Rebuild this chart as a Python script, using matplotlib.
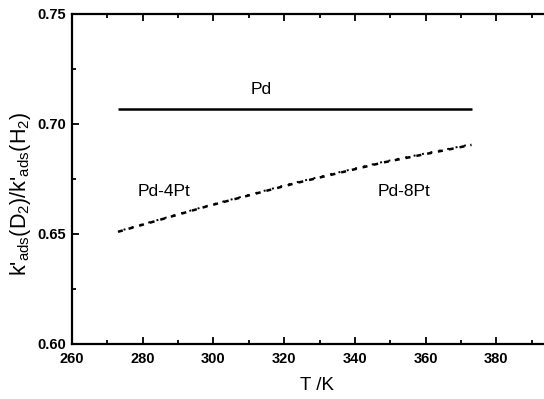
import matplotlib
matplotlib.use("Agg")
from matplotlib import pyplot as plt
from matplotlib.ticker import MultipleLocator
import numpy as np

# data
T = [273, 298, 323, 348, 373]
ratio_pd = [0.7068, 0.7068, 0.7068, 0.7068, 0.7068]
ratio_pd4pt = [0.651, 0.6625, 0.673, 0.6825, 0.6905]
ratio_pd8pt = [0.6512, 0.6627, 0.6733, 0.6828, 0.6908]

plt.rcParams['font.family'] = ['Liberation Sans', 'DejaVu Sans']
plt.rcParams['mathtext.fontset'] = 'custom'
plt.rcParams['mathtext.rm'] = 'Liberation Sans'

fig = plt.figure(figsize=(5.44, 3.99), dpi=100)
ax = fig.add_axes([72 / 544, 1 - 344 / 399, 495 / 544, 330 / 399])

ax.plot(T, ratio_pd, color='black', lw=1.8, solid_capstyle='butt')
ax.plot(T, ratio_pd4pt, color='black', lw=1.8, linestyle=(0, (2.0, 2.4)))
ax.plot(T, ratio_pd8pt, color='black', lw=1.4, linestyle=(1.4, (1, 3.4)))

ax.text(313.5, 0.7155, 'Pd', ha='center', va='center', fontsize=12.5)
ax.text(286, 0.6695, 'Pd-4Pt', ha='center', va='center', fontsize=12.5)
ax.text(354, 0.6695, 'Pd-8Pt', ha='center', va='center', fontsize=12.5)

ax.set_xlim(260, 400)
ax.set_ylim(0.60, 0.75)
ax.xaxis.set_major_locator(MultipleLocator(20))
ax.xaxis.set_minor_locator(MultipleLocator(10))
ax.yaxis.set_major_locator(MultipleLocator(0.05))
ax.yaxis.set_minor_locator(MultipleLocator(0.025))
ax.xaxis.set_major_formatter(matplotlib.ticker.FuncFormatter(
    lambda v, p: '' if v > 390 else f'{v:.0f}'))
ax.yaxis.set_major_formatter(matplotlib.ticker.FormatStrFormatter('%.2f'))
ax.tick_params(which='both', direction='in', top=True, right=False, width=1.3)
ax.tick_params(which='major', length=5, labelsize=10.5)
ax.tick_params(axis='x', which='major', pad=6)
ax.tick_params(axis='y', which='major', pad=4)
ax.tick_params(which='minor', length=3)
for lab in ax.get_xticklabels() + ax.get_yticklabels():
    lab.set_fontweight('bold')
for sp in ax.spines.values():
    sp.set_linewidth(1.6)
ax.spines['right'].set_visible(False)

ax.set_xlabel('T /K', fontsize=13.5)
ax.xaxis.set_label_coords(0.495, -0.1)
ax.set_ylabel(r"k'$_{\mathrm{ads}}$(D$_{\mathrm{2}}$)/k'$_{\mathrm{ads}}$(H$_{\mathrm{2}}$)",
              fontsize=15.5)
ax.yaxis.set_label_coords(-0.079, 0.455)

fig.savefig('out.png', dpi=100)
